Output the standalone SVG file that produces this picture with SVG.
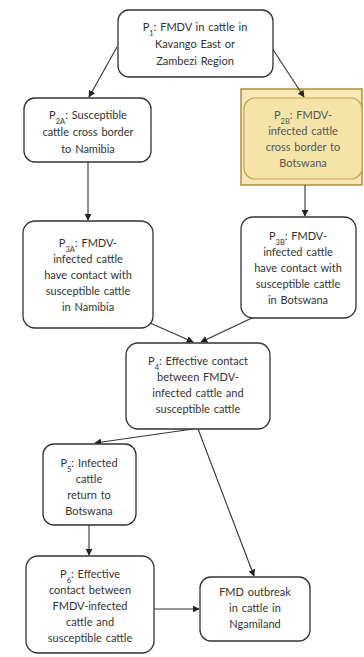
<svg xmlns="http://www.w3.org/2000/svg" width="364" height="657" viewBox="0 0 364 657">
<style>
.box{fill:#ffffff;stroke:#333333;stroke-width:1.3}
.hl{fill:#f8e8b6;stroke:#a8883a;stroke-width:1.4}
.hlbox{fill:#f5e3a8;stroke:#c2a35a;stroke-width:1.2}
text{font-family:Lato,"Liberation Sans",sans-serif;font-size:11px;fill:#333333;text-anchor:middle;word-spacing:1px}
.hltext{fill:#555555}
.sub{font-size:7.5px}
.edge{stroke:#333333;stroke-width:1.1;fill:none;marker-end:url(#ah)}
</style>
<defs>
<marker id="ah" viewBox="0 0 10 10" refX="9" refY="5" markerWidth="7" markerHeight="7" markerUnits="userSpaceOnUse" orient="auto">
<path d="M0,0 L10,5 L0,10 z" fill="#222222"/>
</marker>
</defs>
<rect width="364" height="657" fill="#ffffff"/>
<g id="P2B-highlight">
<rect class="hl" x="241" y="89" width="121" height="96"/>
</g>
<g id="connectors">
<line class="edge" x1="117" y1="47" x2="89" y2="97"/>
<line class="edge" x1="272" y1="48" x2="304" y2="97"/>
<line class="edge" x1="88" y1="162" x2="88" y2="220"/>
<line class="edge" x1="305" y1="185" x2="305" y2="216"/>
<line class="edge" x1="150" y1="323" x2="193" y2="342"/>
<line class="edge" x1="252" y1="318" x2="201" y2="342"/>
<line class="edge" x1="193" y1="429" x2="95" y2="443"/>
<line class="edge" x1="198" y1="429" x2="254" y2="576"/>
<line class="edge" x1="89" y1="525" x2="89" y2="555"/>
<line class="edge" x1="154" y1="609" x2="199" y2="609"/>
</g>
<g id="P1">
<rect class="box" x="118" y="10" width="155" height="67" rx="11"/>
<text x="195" y="31">P<tspan class="sub" baseline-shift="sub">1</tspan>: FMDV in cattle in</text>
<text x="195" y="48">Kavango East or</text>
<text x="195" y="65">Zambezi Region</text>
</g>
<g id="P2A">
<rect class="box" x="24" y="98" width="127" height="64" rx="11"/>
<text x="88" y="119">P<tspan class="sub" baseline-shift="sub">2A</tspan>: Susceptible</text>
<text x="88" y="136">cattle cross border</text>
<text x="88" y="153">to Namibia</text>
</g>
<g id="P2B">
<rect class="hlbox" x="244" y="98" width="118" height="81" rx="11"/>
<text class="hltext" x="303" y="119">P<tspan class="sub" baseline-shift="sub">2B</tspan>: FMDV-</text>
<text class="hltext" x="303" y="135">infected cattle</text>
<text class="hltext" x="303" y="151">cross border to</text>
<text class="hltext" x="303" y="167">Botswana</text>
</g>
<g id="P3A">
<rect class="box" x="23" y="221" width="130" height="107" rx="12"/>
<text x="88" y="247">P<tspan class="sub" baseline-shift="sub">3A</tspan>: FMDV-</text>
<text x="88" y="263">infected cattle</text>
<text x="88" y="279">have contact with</text>
<text x="88" y="295">susceptible cattle</text>
<text x="88" y="311">in Namibia</text>
</g>
<g id="P3B">
<rect class="box" x="241" y="217" width="115" height="101" rx="12"/>
<text x="298" y="240">P<tspan class="sub" baseline-shift="sub">3B</tspan>: FMDV-</text>
<text x="298" y="256">infected cattle</text>
<text x="298" y="272">have contact with</text>
<text x="298" y="288">susceptible cattle</text>
<text x="298" y="304">in Botswana</text>
</g>
<g id="P4">
<rect class="box" x="126" y="343" width="144" height="86" rx="12"/>
<text x="198" y="365">P<tspan class="sub" baseline-shift="sub">4</tspan>: Effective contact</text>
<text x="198" y="381">between FMDV-</text>
<text x="198" y="397">infected cattle and</text>
<text x="198" y="413">susceptible cattle</text>
</g>
<g id="P5">
<rect class="box" x="43" y="444" width="93" height="81" rx="11"/>
<text x="89" y="467">P<tspan class="sub" baseline-shift="sub">5</tspan>: Infected</text>
<text x="89" y="483">cattle</text>
<text x="89" y="499">return to</text>
<text x="89" y="515">Botswana</text>
</g>
<g id="P6">
<rect class="box" x="26" y="556" width="128" height="97" rx="12"/>
<text x="90" y="578">P<tspan class="sub" baseline-shift="sub">6</tspan>: Effective</text>
<text x="90" y="594">contact between</text>
<text x="90" y="610">FMDV-infected</text>
<text x="90" y="626">cattle and</text>
<text x="90" y="642">susceptible cattle</text>
</g>
<g id="Outcome">
<rect class="box" x="200" y="577" width="110" height="64" rx="11"/>
<text x="255" y="596">FMD outbreak</text>
<text x="255" y="612">in cattle in</text>
<text x="255" y="628">Ngamiland</text>
</g>
</svg>
